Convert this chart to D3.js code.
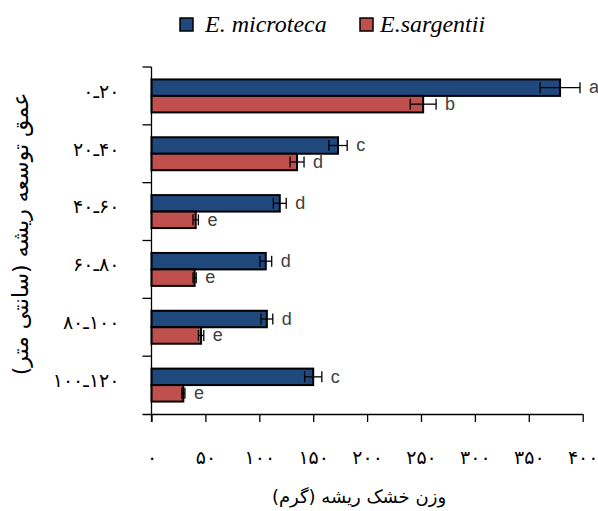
<!DOCTYPE html>
<html>
<head>
<meta charset="utf-8">
<script src="https://cdn.jsdelivr.net/npm/d3@7"></script>
<style>
  html, body { margin: 0; padding: 0; background: #fff; }
  svg { display: block; }
</style>
</head>
<body>
<svg id="chart" width="598" height="511"></svg>
<script>
// Root depth classes (cm), top to bottom
const depths = ["۰ـ۲۰", "۲۰ـ۴۰", "۴۰ـ۶۰", "۶۰ـ۸۰", "۸۰ـ۱۰۰", "۱۰۰ـ۱۲۰"];
const seriesNames = ["E. microteca", "E.sargentii"];

// Root dry weight (g) per depth, with standard error
const microteca = [379, 173, 119, 106, 107, 150];
const microtecaErr = [18.5, 8.5, 6, 5.5, 5.5, 8];
const sargentii = [252, 135, 41, 40, 46, 29.5];
const sargentiiErr = [12, 6.5, 2.5, 1.5, 2.5, 1.5];

// Duncan grouping letters
const microtecaLetters = ["a", "c", "d", "d", "d", "c"];
const sargentiiLetters = ["b", "d", "e", "e", "e", "e"];

const xTicks = [0, 50, 100, 150, 200, 250, 300, 350, 400];
const faDigits = "۰۱۲۳۴۵۶۷۸۹";
const toFa = n => String(n).replace(/\d/g, d => faDigits[+d]);

const colors = ["#1F497D", "#C0504D"];

const svg = d3.select("#chart");
const plotLeft = 151.5, plotRight = 582.7, plotTop = 67, plotBottom = 414;

const x = d3.scaleLinear().domain([0, 400]).range([plotLeft, plotRight]);
const y = d3.scaleBand().domain(depths).range([plotTop, plotBottom])
  .paddingInner(0.43).paddingOuter(0.215);
const ySub = d3.scaleBand().domain(seriesNames).range([0, y.bandwidth()]);

const rows = depths.map((d, i) => ({
  depth: d,
  items: [
    { s: seriesNames[0], v: microteca[i], e: microtecaErr[i], t: microtecaLetters[i] },
    { s: seriesNames[1], v: sargentii[i], e: sargentiiErr[i], t: sargentiiLetters[i] }
  ]
}));

const groups = svg.selectAll("g.depth").data(rows).join("g")
  .attr("class", "depth")
  .attr("transform", d => `translate(0,${y(d.depth)})`);

// Bars
groups.selectAll("rect").data(d => d.items).join("rect")
  .attr("x", x(0))
  .attr("y", d => ySub(d.s))
  .attr("width", d => x(d.v) - x(0))
  .attr("height", ySub.bandwidth())
  .attr("fill", (d, i) => colors[i])
  .attr("stroke", "#000")
  .attr("stroke-width", 2);

// Error bars
const eb = groups.selectAll("g.err").data(d => d.items).join("g").attr("class", "err")
  .attr("transform", d => `translate(0,${ySub(d.s) + ySub.bandwidth() / 2})`);
eb.append("line")
  .attr("x1", d => x(d.v - d.e)).attr("x2", d => x(d.v + d.e))
  .attr("y1", 0).attr("y2", 0);
eb.append("line")
  .attr("x1", d => x(d.v - d.e)).attr("x2", d => x(d.v - d.e))
  .attr("y1", -5.5).attr("y2", 5.5);
eb.append("line")
  .attr("x1", d => x(d.v + d.e)).attr("x2", d => x(d.v + d.e))
  .attr("y1", -5.5).attr("y2", 5.5);
eb.selectAll("line").attr("stroke", "#000").attr("stroke-width", 1.3);

// Grouping letters
groups.selectAll("text.letter").data(d => d.items).join("text")
  .attr("class", "letter")
  .attr("x", d => x(d.v + d.e) + 9)
  .attr("y", d => ySub(d.s) + ySub.bandwidth() / 2)
  .attr("dy", "0.32em")
  .attr("font-family", "Liberation Sans, Arial, sans-serif")
  .attr("font-size", 18)
  .attr("fill", "#404040")
  .text(d => d.t);

// X axis
const xAxis = svg.append("g").attr("transform", `translate(0,${plotBottom})`)
  .call(d3.axisBottom(x).tickValues(xTicks).tickSizeOuter(0).tickSizeInner(8).tickPadding(29)
    .tickFormat(toFa));
xAxis.select(".domain").attr("stroke", "#000").attr("stroke-width", 1.3)
  .attr("d", `M${plotLeft - 9},0.5H${plotRight}`);
xAxis.selectAll(".tick line").attr("stroke", "#000").attr("stroke-width", 1.3);
xAxis.selectAll(".tick text")
  .attr("font-family", "DejaVu Sans, sans-serif")
  .attr("font-size", 19)
  .attr("fill", "#000");

// Y axis with ticks on category boundaries
const yAxisG = svg.append("g").attr("transform", `translate(${plotLeft},0)`);
yAxisG.append("line")
  .attr("x1", 0).attr("x2", 0).attr("y1", plotTop).attr("y2", plotBottom + 8)
  .attr("stroke", "#000").attr("stroke-width", 1.3);
const bounds = depths.map(d => y(d) - y.step() * y.paddingInner() / 2);
yAxisG.selectAll("line.tk").data(bounds).join("line")
  .attr("class", "tk")
  .attr("x1", -9).attr("x2", 0)
  .attr("y1", d => d).attr("y2", d => d)
  .attr("stroke", "#000").attr("stroke-width", 1.3);
yAxisG.selectAll("text").data(depths).join("text")
  .attr("x", -32)
  .attr("y", d => y(d) + y.bandwidth() / 2)
  .attr("dy", "0.1em")
  .attr("text-anchor", "end")
  .attr("direction", "ltr")
  .attr("unicode-bidi", "bidi-override")
  .attr("font-family", "DejaVu Sans, sans-serif")
  .attr("font-size", 19)
  .attr("fill", "#000")
  .text(d => d);

// Centre a text node's ink box on (cx, cy) in its own coordinates
function centreOn(sel, cx, cy) {
  const b = sel.node().getBBox();
  sel.attr("x", +sel.attr("x") + cx - (b.x + b.width / 2))
     .attr("y", +sel.attr("y") + cy - (b.y + b.height / 2));
}

// Axis titles
const yTitle = svg.append("g")
  .attr("transform", "translate(21,234) rotate(-90)")
  .append("text")
  .attr("x", 0).attr("y", 0)
  .attr("direction", "rtl")
  .attr("font-family", "DejaVu Sans, sans-serif")
  .attr("font-size", 22)
  .attr("fill", "#000")
  .text("عمق توسعه ریشه (سانتی متر)");
centreOn(yTitle, 0, 0);

const xTitle = svg.append("text")
  .attr("x", 0).attr("y", 0)
  .attr("direction", "rtl")
  .attr("font-family", "DejaVu Sans, sans-serif")
  .attr("font-size", 18)
  .attr("fill", "#000")
  .text("وزن خشک ریشه (گرم)");
centreOn(xTitle, 359, 497);

// Legend
const legendX = [180, 360];
const lg = svg.selectAll("g.legend").data(seriesNames).join("g")
  .attr("class", "legend")
  .attr("transform", (d, i) => `translate(${legendX[i]},18)`);
lg.append("rect")
  .attr("width", 13).attr("height", 13)
  .attr("fill", (d, i) => colors[i])
  .attr("stroke", "#000").attr("stroke-width", 1.5);
lg.append("text")
  .attr("x", (d, i) => i === 0 ? 25 : 20)
  .attr("y", 14)
  .attr("font-family", "Liberation Serif, Times New Roman, serif")
  .attr("font-style", "italic")
  .attr("font-size", 24)
  .attr("fill", "#000")
  .text(d => d);
</script>
</body>
</html>
